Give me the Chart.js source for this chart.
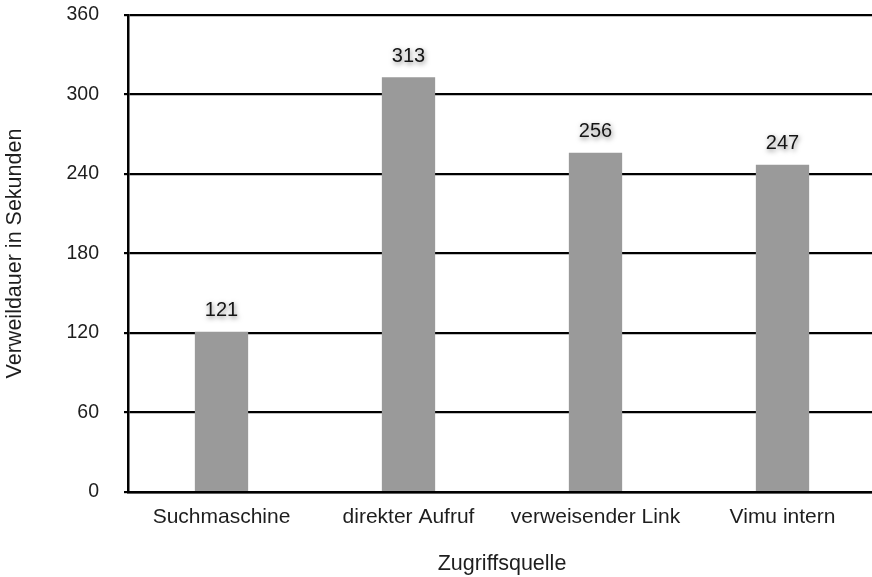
<!DOCTYPE html>
<html>
<head>
<meta charset="utf-8">
<script src="https://cdn.jsdelivr.net/npm/chart.js@4/dist/chart.umd.min.js"></script>
<style>
  html, body { margin: 0; padding: 0; background: #fff; overflow: hidden; }
  #wrap { width: 876px; height: 577px; }
</style>
</head>
<body>
<div id="wrap"><canvas id="c" width="876" height="577"></canvas></div>
<script>
// Verweildauer je Zugriffsquelle
const categories = ['Suchmaschine', 'direkter Aufruf', 'verweisender Link', 'Vimu intern'];
const dwellSeconds = [121, 313, 256, 247];
const yTicks = [0, 60, 120, 180, 240, 300, 360];

const FONT = "'Liberation Sans', Arial, Helvetica, sans-serif";
const TEXT = '#1e1e1e';

// Werte über den Balken, mit weichem Schatten
const valueLabels = {
  id: 'valueLabels',
  afterDatasetsDraw(chart) {
    const ctx = chart.ctx;
    const meta = chart.getDatasetMeta(0);
    const data = chart.data.datasets[0].data;
    ctx.save();
    ctx.font = '20px ' + FONT;
    ctx.textAlign = 'center';
    ctx.textBaseline = 'middle';
    ctx.fillStyle = '#151515';
    ctx.shadowColor = 'rgba(0,0,0,0.5)';
    ctx.shadowBlur = 5;
    ctx.shadowOffsetX = 1;
    ctx.shadowOffsetY = 2;
    meta.data.forEach((bar, i) => {
      ctx.fillText(String(data[i]), bar.x, bar.y - 21);
    });
    ctx.restore();
  }
};

new Chart(document.getElementById('c'), {
  type: 'bar',
  data: {
    labels: categories,
    datasets: [{
      data: dwellSeconds,
      backgroundColor: '#9a9a9a',
      borderWidth: 0,
      barPercentage: 0.285,
      categoryPercentage: 1.0
    }]
  },
  options: {
    responsive: false,
    animation: false,
    devicePixelRatio: 1,
    layout: { padding: { top: 15, right: 0, bottom: 0, left: 0 } },
    plugins: {
      legend: { display: false },
      tooltip: { enabled: false }
    },
    scales: {
      x: {
        grid: { display: false, drawTicks: false },
        border: { display: true, color: '#000', width: 2.5 },
        ticks: { color: TEXT, font: { family: FONT, size: 21 }, padding: 13, maxRotation: 0 },
        title: {
          display: true,
          text: 'Zugriffsquelle',
          color: TEXT,
          font: { family: FONT, size: 21.5 },
          padding: { top: 4, bottom: 0 }
        },
        afterFit(scale) { scale.height = 85; scale.paddingLeft = 0; scale.paddingRight = 0; }
      },
      y: {
        min: 0,
        max: 360,
        afterBuildTicks(scale) { scale.ticks = yTicks.map(v => ({ value: v })); },
        grid: { color: '#000', lineWidth: 2.2, tickLength: 4, drawTicks: true },
        border: { display: true, color: '#000', width: 2.5 },
        ticks: { color: TEXT, font: { family: FONT, size: 19.5 }, padding: 25 },
        title: {
          display: true,
          text: 'Verweildauer in Sekunden',
          color: TEXT,
          font: { family: FONT, size: 21.5 },
          padding: { top: 2, bottom: 2 }
        },
        afterFit(scale) { scale.width = 128; scale.paddingTop = 0; scale.paddingBottom = 0; }
      }
    }
  },
  plugins: [valueLabels]
});
</script>
</body>
</html>
